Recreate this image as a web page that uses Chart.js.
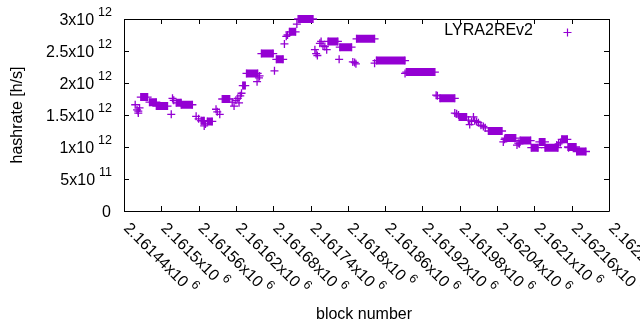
<!DOCTYPE html>
<html>
<head>
<meta charset="utf-8">
<script src="https://cdn.jsdelivr.net/npm/chart.js@4/dist/chart.umd.min.js"></script>
<style>
  body { margin: 0; background: #fff; }
  #wrap { width: 640px; height: 330px; }
</style>
</head>
<body>
<div id="wrap"><canvas id="chart" width="640" height="330"></canvas></div>
<script>
// axis ranges / ticks
const blockMin = 2161440;
const blockMax = 2162220;
const blockStep = 60;
const hashMax = 3e12;
const hashStep = 5e11;

// runs of blocks sharing one hashrate value (drawn as solid bars of '+')
const runStart = [2161467, 2161481, 2161492, 2161524, 2161532, 2161564, 2161574, 2161598, 2161631, 2161637,
                  2161661, 2161685, 2161706, 2161720, 2161768, 2161787, 2161814, 2161846, 2161894, 2161948,
                  2161979, 2162026, 2162053, 2162077, 2162095, 2162108, 2162117, 2162144, 2162154, 2162168];
const runEnd   = [2161478, 2161492, 2161510, 2161532, 2161550, 2161569, 2161582, 2161610, 2161635, 2161655,
                  2161680, 2161696, 2161716, 2161744, 2161784, 2161806, 2161843, 2161892, 2161940, 2161972,
                  2161991, 2162048, 2162070, 2162094, 2162106, 2162117, 2162138, 2162153, 2162167, 2162183];
const runHash  = [1.78, 1.70, 1.64, 1.69, 1.66, 1.41, 1.40, 1.75, 1.96, 2.15,
                  2.46, 2.37, 2.80, 3.00, 2.65, 2.56, 2.69, 2.35, 2.17, 1.76,
                  1.47, 1.25, 1.14, 1.10, 0.99, 1.08, 0.99, 1.12, 1.00, 0.93];

// single scattered blocks
const pointBlock = [2161458, 2161461, 2161463, 2161465, 2161463, 2161516, 2161518, 2161520, 2161556, 2161560,
                    2161569, 2161571, 2161588, 2161590, 2161594, 2161614, 2161617, 2161620, 2161623, 2161625,
                    2161627, 2161629, 2161654, 2161657, 2161658, 2161682, 2161698, 2161701, 2161703, 2161718,
                    2161747, 2161749, 2161751, 2161755, 2161757, 2161760, 2161763, 2161766, 2161786, 2161808,
                    2161811, 2161813, 2161843, 2161892, 2161942, 2161944, 2161972, 2161975, 2161978, 2161994,
                    2161996, 2161999, 2162002, 2162004, 2162007, 2162010, 2162014, 2162018, 2162021, 2162050,
                    2162052, 2162072, 2162074, 2162076, 2162136, 2162139, 2162142, 2162155];
const pointHash  = [1.66, 1.58, 1.53, 1.61, 1.56, 1.51, 1.76, 1.73, 1.48, 1.44,
                    1.33, 1.36, 1.59, 1.55, 1.51, 1.70, 1.64, 1.73, 1.76, 1.69,
                    1.80, 1.84, 2.02, 2.08, 2.11, 2.19, 2.61, 2.73, 2.75, 2.92,
                    2.52, 2.46, 2.43, 2.62, 2.65, 2.58, 2.57, 2.52, 2.37, 2.33,
                    2.32, 2.30, 2.31, 2.15, 1.81, 1.80, 1.53, 1.52, 1.50, 1.42,
                    1.35, 1.40, 1.47, 1.41, 1.40, 1.38, 1.34, 1.32, 1.30, 1.08,
                    1.12, 1.03, 1.06, 1.05, 1.03, 1.05, 1.07, 0.99];

const seriesName = 'LYRA2REv2';
const violet = '#9400d3';
const FONT = '"Liberation Sans", Arial, sans-serif';

// build datasets
const runData = [];
runStart.forEach((s, i) => {
    runData.push({ x: s, y: runHash[i] * 1e12 });
    runData.push({ x: runEnd[i], y: runHash[i] * 1e12 });
    runData.push({ x: runEnd[i], y: null });
});
const pointData = pointBlock.map((b, i) => ({ x: b, y: pointHash[i] * 1e12 }));

// split "2.16144x10^6" style labels into base and exponent
function sciParts(v) {
    if (v === 0) return ['0', ''];
    const e = Math.floor(Math.log10(v) + 1e-9);
    const m = parseFloat((v / Math.pow(10, e)).toFixed(6));
    return [m + 'x10', String(e)];
}

const gnuplotLook = {
    id: 'gnuplotLook',
    beforeDatasetsDraw(chart) {
        const { ctx, chartArea: a, scales: { x, y } } = chart;
        ctx.save();
        ctx.strokeStyle = '#000';
        ctx.lineWidth = 1;
        ctx.beginPath();
        ctx.rect(a.left + 0.5, a.top + 0.5, a.right - a.left, a.bottom - a.top);
        x.ticks.forEach(t => {
            const px = Math.round(x.getPixelForValue(t.value)) + 0.5;
            ctx.moveTo(px, a.bottom); ctx.lineTo(px, a.bottom - 5);
            ctx.moveTo(px, a.top); ctx.lineTo(px, a.top + 5);
        });
        y.ticks.forEach(t => {
            const py = Math.round(y.getPixelForValue(t.value)) + 0.5;
            ctx.moveTo(a.left, py); ctx.lineTo(a.left + 5, py);
            ctx.moveTo(a.right, py); ctx.lineTo(a.right - 5, py);
        });
        ctx.stroke();
        ctx.restore();
    },
    afterDraw(chart) {
        const { ctx, scales: { x, y } } = chart;
        ctx.save();
        ctx.fillStyle = '#000';

        // y tick labels
        y.ticks.forEach(t => {
            const py = y.getPixelForValue(t.value);
            const [base, exp] = sciParts(t.value);
            ctx.textAlign = 'right';
            ctx.textBaseline = 'alphabetic';
            let right = 112;
            if (exp) {
                ctx.font = '12.5px ' + FONT;
                ctx.fillText(exp, right, py - 3);
                right -= ctx.measureText(exp).width + 4;
            } else {
                right = 111;
            }
            ctx.font = '16px ' + FONT;
            ctx.fillText(base, right, py + 6);
        });

        // x tick labels, rotated
        x.ticks.forEach(t => {
            const px = x.getPixelForValue(t.value);
            const [base, exp] = sciParts(t.value);
            ctx.save();
            ctx.translate(px - 1, 229);
            ctx.rotate(Math.PI / 4);
            ctx.textAlign = 'left';
            ctx.textBaseline = 'alphabetic';
            ctx.font = '16px ' + FONT;
            ctx.fillText(base, 0, 0);
            const w = ctx.measureText(base).width;
            ctx.font = '12.5px ' + FONT;
            ctx.fillText(exp, w + 4, -8);
            ctx.restore();
        });

        // axis titles
        ctx.font = '16px ' + FONT;
        ctx.textAlign = 'center';
        ctx.textBaseline = 'middle';
        ctx.fillText('block number', 364, 315);
        ctx.save();
        ctx.translate(18, 115);
        ctx.rotate(-Math.PI / 2);
        ctx.fillText('hashrate [h/s]', 0, 0);
        ctx.restore();

        // legend
        ctx.textAlign = 'right';
        ctx.fillText(seriesName, 533, 31);
        ctx.strokeStyle = violet;
        ctx.lineWidth = 1.2;
        ctx.beginPath();
        ctx.moveTo(563.5, 32.5); ctx.lineTo(571.5, 32.5);
        ctx.moveTo(567.5, 28.5); ctx.lineTo(567.5, 36.5);
        ctx.stroke();
        ctx.restore();
    }
};

new Chart(document.getElementById('chart').getContext('2d'), {
    type: 'scatter',
    data: {
        datasets: [
            {
                type: 'line',
                label: seriesName,
                data: runData,
                borderColor: violet,
                backgroundColor: violet,
                borderWidth: 8,
                borderCapStyle: 'butt',
                spanGaps: false,
                pointStyle: 'cross',
                pointRadius: 4,
                pointBorderWidth: 1.3,
                pointBorderColor: violet,
                clip: false
            },
            {
                label: seriesName,
                data: pointData,
                pointStyle: 'cross',
                pointRadius: 4,
                pointBorderWidth: 1.3,
                borderColor: violet,
                backgroundColor: violet,
                clip: false
            }
        ]
    },
    options: {
        responsive: false,
        animation: false,
        events: [],
        layout: { padding: { left: 0, top: 19, right: 31, bottom: 0 } },
        plugins: { legend: { display: false }, tooltip: { enabled: false } },
        scales: {
            x: {
                type: 'linear',
                min: blockMin,
                max: blockMax,
                ticks: { stepSize: blockStep, display: false },
                grid: { display: false },
                border: { display: false },
                afterFit: s => { s.height = 119; }
            },
            y: {
                min: 0,
                max: hashMax,
                ticks: { stepSize: hashStep, display: false },
                grid: { display: false },
                border: { display: false },
                afterFit: s => { s.width = 124; }
            }
        }
    },
    plugins: [gnuplotLook]
});
</script>
</body>
</html>
